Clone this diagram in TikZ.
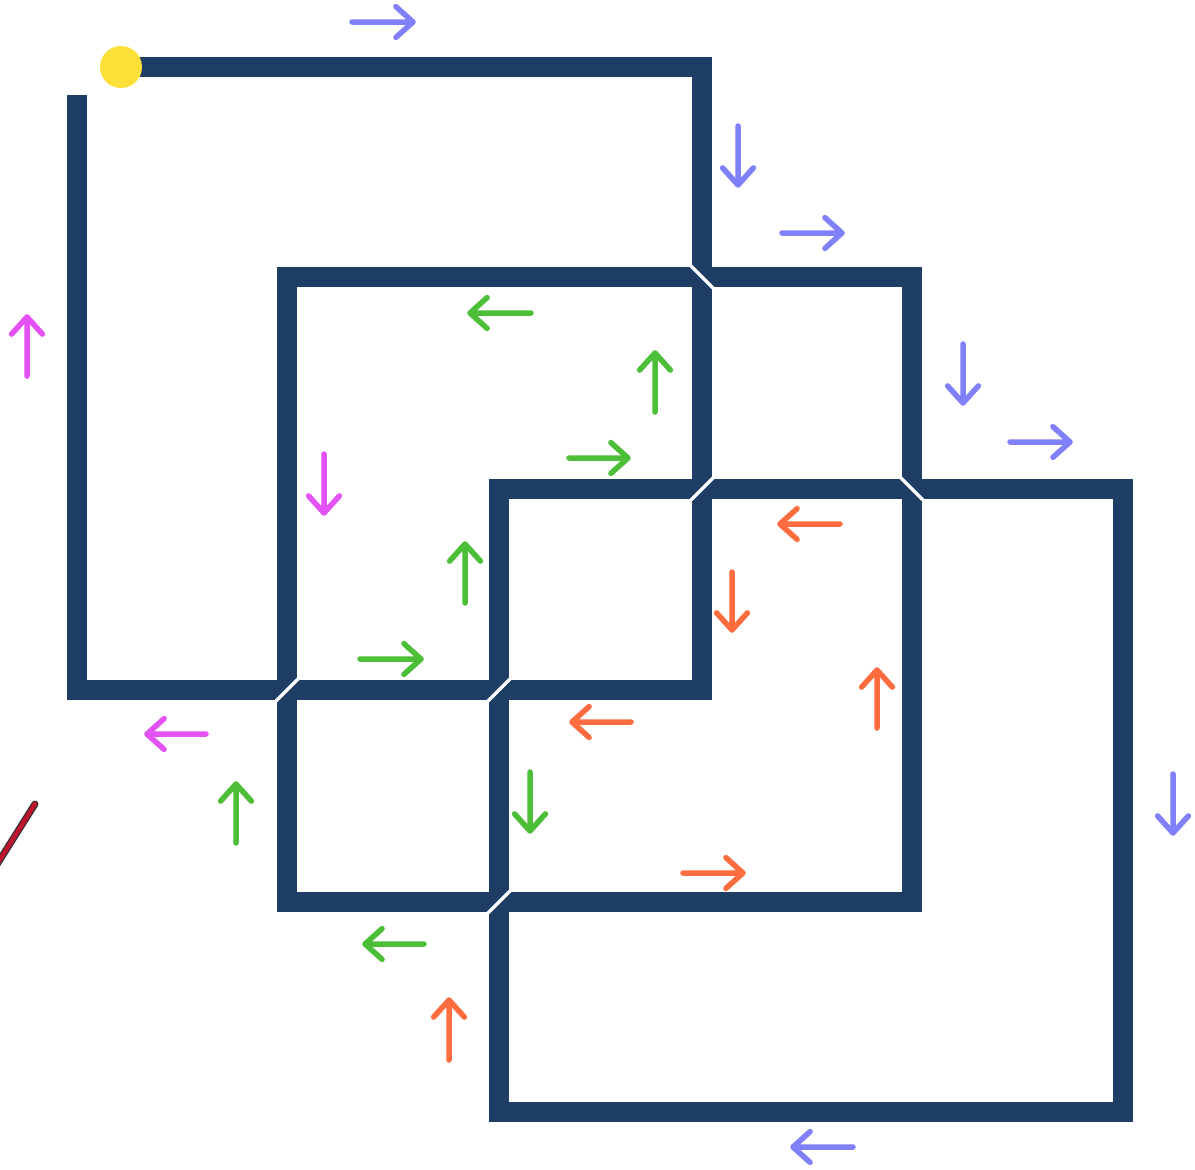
\documentclass[tikz,border=0pt]{standalone}
\usetikzlibrary{calc}
\definecolor{navy}{RGB}{31,62,101}
\definecolor{flowblue}{RGB}{128,128,250}
\definecolor{flowmag}{RGB}{228,82,245}
\definecolor{flowgreen}{RGB}{76,190,56}
\definecolor{floworange}{RGB}{255,108,64}
\definecolor{dotyellow}{RGB}{253,224,55}
\definecolor{penred}{RGB}{190,20,45}
\tikzset{
  band/.style={draw=navy,line width=20pt,line join=miter,line cap=butt},
  cut/.style={draw=white,line width=3.5pt,line cap=butt},
  flowline/.style={line width=5.5pt,line cap=round,line join=round},
}
\newcommand\flw[5]{%
  \draw[flowline,#1] (#2,#3) -- (#4,#5) -- ($(#4,#5)!23pt!42:(#2,#3)$)
       (#4,#5) -- ($(#4,#5)!23pt!-42:(#2,#3)$);}
\begin{document}
\begin{tikzpicture}[x=1pt,y=-1pt]
\fill[white] (0,0) rectangle (1195,1170);
\useasboundingbox (0,0) rectangle (1195,1170);
\coordinate (start) at (121,67);
\coordinate (endA) at (77,95);
% square A (open path)
\draw[band] (start) -- (702,67) -- (702,690) -- (77,690) -- (endA);
% square B
\draw[band] (287,277) rectangle (912,902);
% square C
\draw[band] (499,489) rectangle (1123,1112);
% smoothing cuts at the crossings
\draw[cut] (687,262) -- (717,292);
\draw[cut] (717,474) -- (687,504);
\draw[cut] (897,474) -- (927,504);
\draw[cut] (302,675) -- (272,705);
\draw[cut] (514,675) -- (484,705);
\draw[cut] (514,887) -- (484,917);
% start dot
\fill[dotyellow] (start) circle (21pt);
% blue arrows
\flw{flowblue}{352}{22}{413}{22}
\flw{flowblue}{738}{126}{738}{185}
\flw{flowblue}{782}{233}{842}{233}
\flw{flowblue}{963}{344}{963}{403}
\flw{flowblue}{1010}{442}{1070}{442}
\flw{flowblue}{1173}{774}{1173}{833}
\flw{flowblue}{853}{1147}{793}{1147}
% magenta arrows
\flw{flowmag}{27}{376}{27}{317}
\flw{flowmag}{324}{454}{324}{513}
\flw{flowmag}{206}{734}{147}{734}
% green arrows
\flw{flowgreen}{531}{313}{470}{313}
\flw{flowgreen}{655}{412}{655}{353}
\flw{flowgreen}{569}{458}{628}{458}
\flw{flowgreen}{465}{603}{465}{544}
\flw{flowgreen}{360}{659}{421}{659}
\flw{flowgreen}{236}{843}{236}{784}
\flw{flowgreen}{530}{772}{530}{831}
\flw{flowgreen}{424}{944}{365}{944}
% orange arrows
\flw{floworange}{840}{524}{780}{524}
\flw{floworange}{732}{572}{732}{630}
\flw{floworange}{877}{728}{877}{670}
\flw{floworange}{631}{722}{572}{722}
\flw{floworange}{683}{873}{743}{873}
\flw{floworange}{449}{1060}{449}{1000}
% pen stroke at left edge
\draw[black!80,line width=7pt,line cap=round] (35,804) -- (-4,866);
\draw[penred,line width=4.5pt,line cap=round] (35,804) -- (-4,866);
\end{tikzpicture}
\end{document}
